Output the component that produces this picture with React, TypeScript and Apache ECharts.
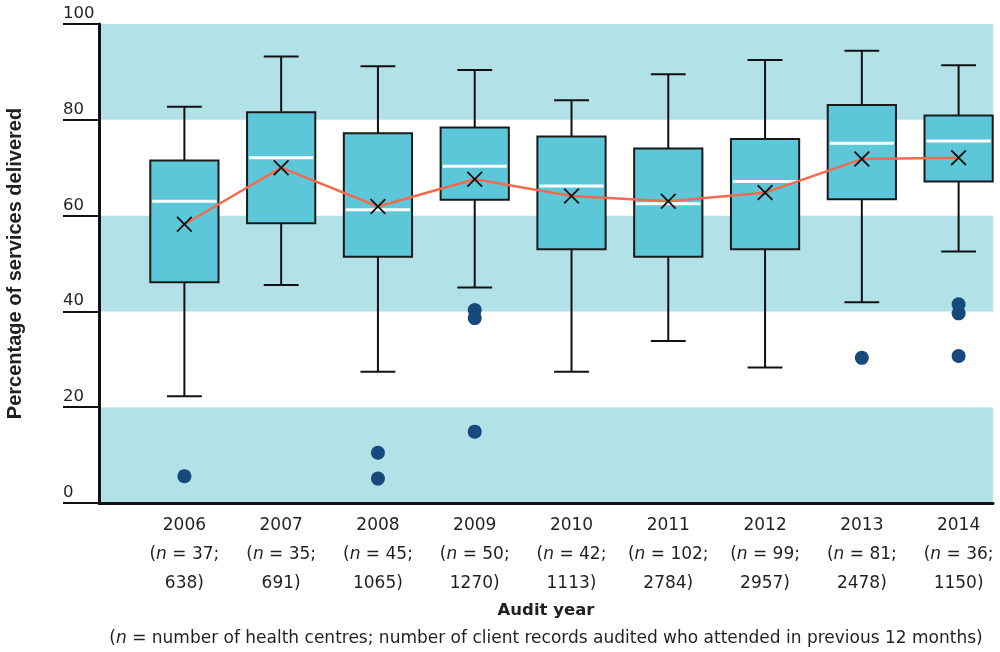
import React, { useEffect, useRef } from "react";
import * as echarts from "echarts";

const categories = ["2006", "2007", "2008", "2009", "2010", "2011", "2012", "2013", "2014"];
const nCentres = [37, 35, 45, 50, 42, 102, 99, 81, 36];
const nRecords = [638, 691, 1065, 1270, 1113, 2784, 2957, 2478, 1150];
const whiskerLow = [22.3, 45.5, 27.4, 45.0, 27.4, 33.8, 28.3, 41.9, 52.5];
const quartile1 = [46.1, 58.4, 51.4, 63.3, 53.0, 51.4, 53.0, 63.4, 67.1];
const medians = [63.0, 72.1, 61.2, 70.3, 66.2, 62.5, 67.1, 75.1, 75.6];
const quartile3 = [71.5, 81.6, 77.2, 78.4, 76.5, 74.0, 76.0, 83.1, 80.9];
const whiskerHigh = [82.7, 93.2, 91.2, 90.4, 84.1, 89.5, 92.5, 94.4, 91.4];
const means = [58.2, 70.0, 61.9, 67.6, 64.1, 63.0, 64.8, 71.8, 72.1];
const outliers: [number, number][] = [
  [0, 5.6],
  [2, 10.5],
  [2, 5.1],
  [3, 40.3],
  [3, 38.6],
  [3, 14.9],
  [7, 30.3],
  [8, 41.5],
  [8, 39.6],
  [8, 30.7],
];
const yTicks = { min: 0, max: 100, interval: 20 };

const FONT = "DejaVu Sans";
const TITLE_FONT = "Liberation Sans";
const TEXT = "#231f20";

export default function App() {
  const ref = useRef<HTMLDivElement>(null);
  useEffect(() => {
    if (!ref.current) return;
    const chart = echarts.init(ref.current, undefined, { renderer: "svg" });
    const boxData = categories.map((_, i) => [
      i,
      whiskerLow[i],
      quartile1[i],
      medians[i],
      quartile3[i],
      whiskerHigh[i],
    ]);
    const option: any = {
      animation: false,
      textStyle: { fontFamily: FONT },
      grid: [
        { left: 99, right: 7, top: 24, bottom: 149, outerBoundsMode: "none", containLabel: false },
        { left: 136, width: 871, top: 24, bottom: 149, outerBoundsMode: "none", containLabel: false },
      ],
      xAxis: [
        {
          type: "value",
          gridIndex: 0,
          min: 0,
          max: 1,
          axisLine: { show: true, onZero: false, lineStyle: { color: "#111", width: 3 } },
          axisTick: { show: false },
          axisLabel: { show: false },
          splitLine: { show: false },
          name: "Audit year",
          nameLocation: "middle",
          nameGap: 98,
          nameTextStyle: { fontFamily: FONT, fontSize: 16.5, fontWeight: "bold", color: TEXT },
        },
        {
          type: "category",
          gridIndex: 1,
          data: categories,
          axisLine: { show: false },
          axisTick: { show: false },
          splitLine: { show: false },
          axisLabel: {
            interval: 0,
            margin: 6,
            fontFamily: FONT,
            fontSize: 17,
            lineHeight: 29,
            color: TEXT,
            formatter: (v: string, i: number) =>
              `${v}\n({i|n} = ${nCentres[i]};\n${nRecords[i]})`,
            rich: {
              i: { fontStyle: "italic", fontFamily: FONT, fontSize: 17, color: TEXT, lineHeight: 29 },
            },
          },
        },
      ],
      yAxis: [
        {
          type: "value",
          gridIndex: 0,
          ...yTicks,
          axisLine: { show: true, lineStyle: { color: "#111", width: 3 } },
          axisTick: { show: true, length: 36, lineStyle: { color: "#111", width: 2 } },
          axisLabel: {
            margin: 36,
            align: "left",
            verticalAlign: "bottom",
            padding: [0, 0, 3, 0],
            fontFamily: FONT,
            fontSize: 16.5,
            color: TEXT,
          },
          splitLine: { show: false },
          splitArea: { show: true, areaStyle: { color: ["#b3e1e8", "#ffffff"] } },
          name: "Percentage of services delivered",
          nameLocation: "middle",
          nameGap: 75,
          nameTextStyle: { fontFamily: TITLE_FONT, fontSize: 20, fontWeight: "bold", color: TEXT },
        },
        {
          type: "value",
          gridIndex: 1,
          ...yTicks,
          show: false,
          splitLine: { show: false },
        },
      ],
      series: [
        {
          type: "custom",
          xAxisIndex: 1,
          yAxisIndex: 1,
          data: boxData,
          encode: { x: 0, y: [1, 2, 3, 4, 5] },
          z: 2,
          clip: false,
          renderItem: (params: any, api: any) => {
            const x = api.value(0);
            const pLow = api.coord([x, api.value(1)]);
            const pQ1 = api.coord([x, api.value(2)]);
            const pMed = api.coord([x, api.value(3)]);
            const pQ3 = api.coord([x, api.value(4)]);
            const pHigh = api.coord([x, api.value(5)]);
            const band = api.size([1, 0])[0];
            const bw = band * 0.705;
            const cw = band * 0.36;
            const cx = pMed[0];
            const ls = { stroke: "#111", lineWidth: 2 };
            return {
              type: "group",
              children: [
                { type: "line", shape: { x1: cx, y1: pQ3[1], x2: cx, y2: pHigh[1] }, style: ls },
                { type: "line", shape: { x1: cx, y1: pQ1[1], x2: cx, y2: pLow[1] }, style: ls },
                { type: "line", shape: { x1: cx - cw / 2, y1: pHigh[1], x2: cx + cw / 2, y2: pHigh[1] }, style: ls },
                { type: "line", shape: { x1: cx - cw / 2, y1: pLow[1], x2: cx + cw / 2, y2: pLow[1] }, style: ls },
                {
                  type: "rect",
                  shape: { x: cx - bw / 2, y: pQ3[1], width: bw, height: pQ1[1] - pQ3[1] },
                  style: { fill: "#5bc7d9", stroke: "#1a1a1a", lineWidth: 2 },
                },
                {
                  type: "line",
                  shape: { x1: cx - bw / 2 + 2, y1: pMed[1], x2: cx + bw / 2 - 2, y2: pMed[1] },
                  style: { stroke: "#ffffff", lineWidth: 3 },
                },
              ],
            };
          },
        },
        {
          type: "line",
          xAxisIndex: 1,
          yAxisIndex: 1,
          data: means,
          z: 3,
          symbol:
            "path://M0,1.6 L1.6,0 L10,8.4 L18.4,0 L20,1.6 L11.6,10 L20,18.4 L18.4,20 L10,11.6 L1.6,20 L0,18.4 L8.4,10 Z",
          symbolSize: 16,
          itemStyle: { color: "#111" },
          lineStyle: { color: "#f26b4f", width: 2.5 },
        },
        {
          type: "scatter",
          xAxisIndex: 1,
          yAxisIndex: 1,
          data: outliers,
          z: 4,
          symbol: "circle",
          symbolSize: 14,
          itemStyle: { color: "#174a7c", opacity: 1 },
        },
      ],
      graphic: [
        {
          type: "text",
          x: 546,
          y: 637,
          style: {
            text: "({i|n} = number of health centres; number of client records audited who attended in previous 12 months)",
            fontFamily: FONT,
            fontSize: 17,
            fill: TEXT,
            align: "center",
            verticalAlign: "middle",
            rich: { i: { fontStyle: "italic", fontFamily: FONT, fontSize: 17, fill: TEXT } },
          },
        },
      ],
    };
    chart.setOption(option);
    return () => chart.dispose();
  }, []);
  return (
    <div
      ref={ref}
      style={{ position: "fixed", left: 0, top: 0, width: 1000, height: 652 }}
    />
  );
}
